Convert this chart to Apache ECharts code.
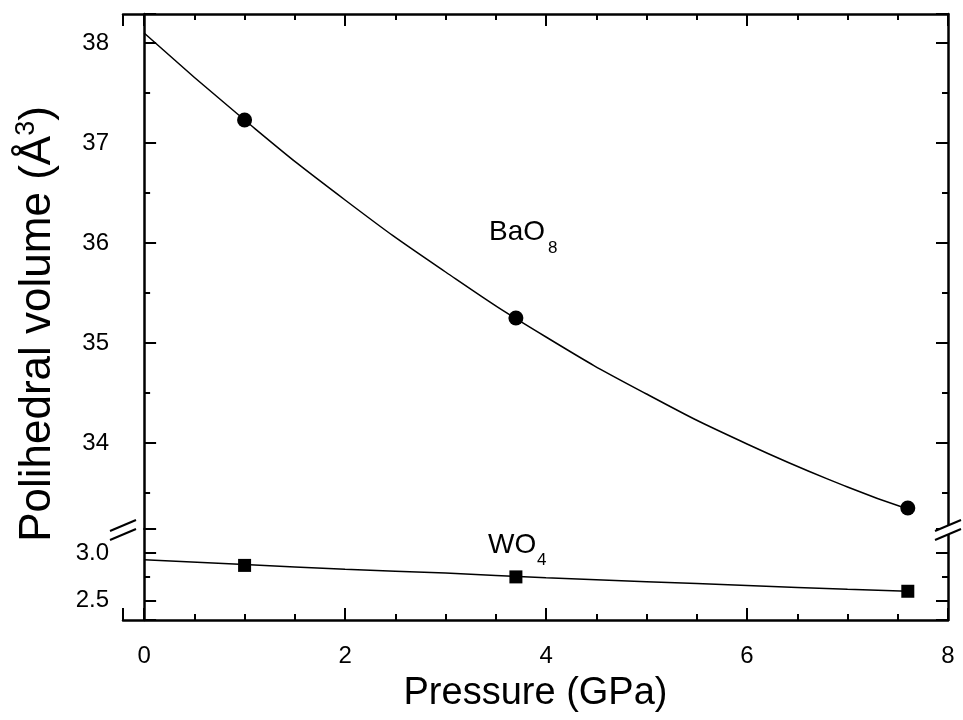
<!DOCTYPE html>
<html>
<head>
<meta charset="utf-8">
<script src="https://cdn.jsdelivr.net/npm/echarts@6/dist/echarts.min.js"></script>
<style>
html, body { margin: 0; padding: 0; background: #fff; }
#main { width: 963px; height: 720px; }
</style>
</head>
<body>
<div id="main"></div>
<script>
// fitted curves
var pressureFit = [0, 1, 2, 3, 4, 5, 6, 7, 7.6];
var bao8Fit = [38.10, 37.23, 36.43, 35.71, 35.06, 34.49, 33.99, 33.56, 33.34];
var wo4Fit = [2.93, 2.88, 2.83, 2.79, 2.74, 2.70, 2.66, 2.62, 2.60];
// measured points
var pressureMeas = [1.0, 3.7, 7.6];
var bao8Meas = [37.23, 35.25, 33.35];
var wo4Meas = [2.87, 2.75, 2.60];

var FONT = 'Liberation Sans, Arial, sans-serif';
var chart = echarts.init(document.getElementById('main'));

function pairs(xs, ys) {
	return xs.map(function(x, i) { return [x, ys[i]]; });
}

var lineAxis = { show: true, lineStyle: { color: '#000', width: 2.5 } };
function tick(len) {
	return { show: true, inside: true, length: len, lineStyle: { color: '#000', width: 2 } };
}
function minor(n) {
	return { show: true, splitNumber: n, length: 6, lineStyle: { color: '#000', width: 2 } };
}

var xBase = {
	type: 'value', min: -0.21, max: 8, splitNumber: 4,
	axisLine: lineAxis, axisTick: tick(12), minorTick: minor(4),
	splitLine: { show: false }
};

option = {
	animation: false,
	backgroundColor: '#fff',
	grid: [
		{ left: 123, right: 15, top: 14, height: 515 },
		{ left: 123, right: 15, top: 529, height: 91 }
	],
	xAxis: [
		Object.assign({}, xBase, { gridIndex: 0, position: 'top', axisLabel: { show: false } }),
		Object.assign({}, xBase, {
			gridIndex: 1, position: 'bottom',
			axisLabel: { show: true, color: '#000', fontSize: 24, fontFamily: FONT, margin: 24, showMinLabel: false },
			name: 'Pressure (GPa)', nameLocation: 'middle', nameGap: 55,
			nameTextStyle: { color: '#000', fontSize: 38, fontFamily: FONT }
		})
	],
	yAxis: [
		{
			type: 'value', gridIndex: 0, position: 'left', min: 33.14, max: 38.29, splitNumber: 5,
			axisLine: lineAxis, axisTick: tick(12), minorTick: minor(2), splitLine: { show: false },
			axisLabel: { color: '#000', fontSize: 24, fontFamily: FONT, margin: 14, showMinLabel: false, showMaxLabel: false }
		},
		{
			type: 'value', gridIndex: 0, position: 'right', min: 33.14, max: 38.29, splitNumber: 5,
			axisLine: lineAxis, axisTick: tick(12), minorTick: minor(2), splitLine: { show: false },
			axisLabel: { show: false }
		},
		{
			type: 'value', gridIndex: 1, position: 'left', min: 2.30, max: 3.25, splitNumber: 2,
			axisLine: lineAxis, axisTick: tick(12), minorTick: minor(2), splitLine: { show: false },
			axisLabel: {
				color: '#000', fontSize: 24, fontFamily: FONT, margin: 14, showMinLabel: false, showMaxLabel: false,
				formatter: function(v) { return v.toFixed(1); }
			}
		},
		{
			type: 'value', gridIndex: 1, position: 'right', min: 2.30, max: 3.25, splitNumber: 2,
			axisLine: lineAxis, axisTick: tick(12), minorTick: minor(2), splitLine: { show: false },
			axisLabel: { show: false }
		}
	],
	series: [
		{
			name: 'BaO8 fit', type: 'line', xAxisIndex: 0, yAxisIndex: 0, smooth: true,
			showSymbol: false, data: pairs(pressureFit, bao8Fit),
			lineStyle: { color: '#000', width: 1.5 }
		},
		{
			name: 'BaO8', type: 'scatter', xAxisIndex: 0, yAxisIndex: 0, symbol: 'circle', symbolSize: 15,
			data: pairs(pressureMeas, bao8Meas), itemStyle: { color: '#000', opacity: 1 }
		},
		{
			name: 'WO4 fit', type: 'line', xAxisIndex: 1, yAxisIndex: 2, smooth: true,
			showSymbol: false, data: pairs(pressureFit, wo4Fit),
			lineStyle: { color: '#000', width: 1.5 }
		},
		{
			name: 'WO4', type: 'scatter', xAxisIndex: 1, yAxisIndex: 2, symbol: 'rect', symbolSize: 13,
			data: pairs(pressureMeas, wo4Meas), itemStyle: { color: '#000', opacity: 1 }
		}
	],
	graphic: [
		// axis break marks
		{ type: 'polygon', shape: { points: [[110, 531], [136, 520], [136, 529], [110, 540]] }, style: { fill: '#fff' }, z: 100 },
		{ type: 'line', shape: { x1: 110, y1: 531, x2: 136, y2: 520 }, style: { stroke: '#000', lineWidth: 2 }, z: 101 },
		{ type: 'line', shape: { x1: 110, y1: 540, x2: 136, y2: 529 }, style: { stroke: '#000', lineWidth: 2 }, z: 101 },
		{ type: 'polygon', shape: { points: [[935, 531], [961, 520], [961, 529], [935, 540]] }, style: { fill: '#fff' }, z: 100 },
		{ type: 'line', shape: { x1: 935, y1: 531, x2: 961, y2: 520 }, style: { stroke: '#000', lineWidth: 2 }, z: 101 },
		{ type: 'line', shape: { x1: 935, y1: 540, x2: 961, y2: 529 }, style: { stroke: '#000', lineWidth: 2 }, z: 101 },
		// y axis title
		{
			type: 'text', x: 38, y: 324, rotation: Math.PI / 2,
			style: {
				text: '{m|Polihedral volume (Å}{s|3}{m|)}',
				align: 'center', verticalAlign: 'middle',
				rich: {
					m: { fontSize: 44, fontFamily: FONT, fill: '#000', lineHeight: 50 },
					s: { fontSize: 27, fontFamily: FONT, fill: '#000', verticalAlign: 'top', lineHeight: 50 }
				}
			}
		},
		// series labels
		{ type: 'text', x: 489, y: 232, style: { text: 'BaO', fontSize: 28, fontFamily: FONT, fill: '#000', verticalAlign: 'middle' } },
		{ type: 'text', x: 548, y: 248, style: { text: '8', fontSize: 17, fontFamily: FONT, fill: '#000', verticalAlign: 'middle' } },
		{ type: 'text', x: 488, y: 545, style: { text: 'WO', fontSize: 28, fontFamily: FONT, fill: '#000', verticalAlign: 'middle' } },
		{ type: 'text', x: 537, y: 560, style: { text: '4', fontSize: 17, fontFamily: FONT, fill: '#000', verticalAlign: 'middle' } }
	]
};
chart.setOption(option);
</script>
</body>
</html>
